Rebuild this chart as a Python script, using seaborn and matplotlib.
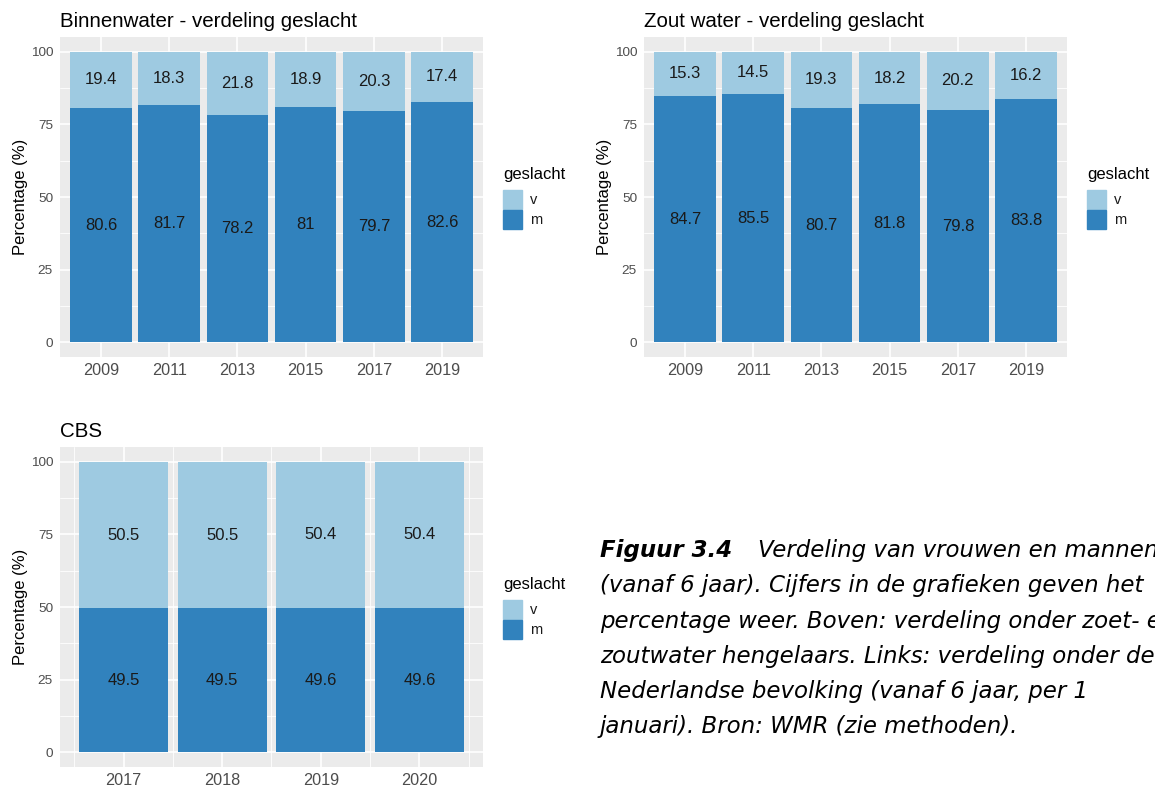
import numpy as np
import pandas as pd
import matplotlib
matplotlib.use("Agg")
import matplotlib.pyplot as plt
import matplotlib.patches as mpatches
import seaborn as sns

# --- data ---
jaren_hengel = ["2009", "2011", "2013", "2015", "2017", "2019"]
binnen_m = [80.6, 81.7, 78.2, 81.0, 79.7, 82.6]
binnen_v = [19.4, 18.3, 21.8, 18.9, 20.3, 17.4]
zout_m = [84.7, 85.5, 80.7, 81.8, 79.8, 83.8]
zout_v = [15.3, 14.5, 19.3, 18.2, 20.2, 16.2]
jaren_cbs = [2017, 2018, 2019, 2020]
cbs_m = [49.5, 49.5, 49.6, 49.6]
cbs_v = [50.5, 50.5, 50.4, 50.4]
geslacht = ["v", "m"]

LICHT = "#9ECAE1"   # v
DONKER = "#3182BD"  # m
W, H = 1155, 791

sns.set_style("white")
plt.rcParams["font.family"] = ["Liberation Sans", "DejaVu Sans"]

fig = plt.figure(figsize=(W / 100, H / 100), dpi=100)


def px_axes(l, t, r, b):
    return fig.add_axes([l / W, 1 - b / H, (r - l) / W, (b - t) / H])


def panel(ax, x, m, v, title, native=False):
    df = pd.DataFrame({"jaar": x, "m": m, "v": v})
    df["totaal"] = df["m"] + df["v"]
    # stacked: full bar in light colour, m drawn over it in dark
    sns.barplot(data=df, x="jaar", y="totaal", color=LICHT, width=0.9,
                saturation=1, linewidth=0, native_scale=native,
                errorbar=None, ax=ax)
    sns.barplot(data=df, x="jaar", y="m", color=DONKER, width=0.9,
                saturation=1, linewidth=0, native_scale=native,
                errorbar=None, ax=ax)
    pos = df["jaar"].to_numpy() if native else np.arange(len(df))
    for p, mm, vv in zip(pos, df["m"], df["v"]):
        ax.text(p, mm / 2, f"{mm:g}", ha="center", va="center",
                fontsize=12, color="#1a1a1a")
        ax.text(p, mm + vv / 2, f"{vv:g}", ha="center", va="center",
                fontsize=12, color="#1a1a1a")

    ax.set_facecolor("#EBEBEB")
    for s in ax.spines.values():
        s.set_visible(False)
    ax.set_ylim(-5, 105)
    ax.set_yticks([0, 25, 50, 75, 100])
    ax.set_yticks([12.5, 37.5, 62.5, 87.5], minor=True)
    if native:
        span = (pos.max() + 0.45) - (pos.min() - 0.45)
        ax.set_xlim(pos.min() - 0.45 - 0.05 * span, pos.max() + 0.45 + 0.05 * span)
        ax.set_xticks(pos)
        ax.set_xticklabels([str(p) for p in pos])
        ax.set_xticks(np.arange(pos.min() - 0.5, pos.max() + 1, 1.0), minor=True)
        ax.xaxis.grid(True, which="minor", color="white", lw=0.6)
    else:
        ax.set_xlim(-0.6, len(df) - 0.4)
    ax.set_axisbelow(True)
    ax.grid(True, which="major", color="white", lw=1.2)
    ax.yaxis.grid(True, which="minor", color="white", lw=0.6)
    ax.tick_params(which="major", length=3, width=0.8, color="#333333")
    ax.tick_params(which="minor", length=0)
    ax.tick_params(axis="x", labelsize=11.7, labelcolor="#4D4D4D", pad=1.5)
    ax.tick_params(axis="y", labelsize=9.7, labelcolor="#4D4D4D", pad=2)
    ax.set_xlabel("")
    ax.set_ylabel("Percentage (%)", fontsize=12, color="black")
    ax.yaxis.set_label_coords(-32 / 423, 0.5)
    ax.set_title(title, loc="left", fontsize=14.8, pad=7, color="black")


def legende(x, ytitel):
    # ggplot-like legend: title, then square keys stacked without gap
    fig.text(x / W, 1 - ytitel / H, "geslacht", fontsize=12,
             ha="left", va="center", color="black")
    kleuren = {"v": LICHT, "m": DONKER}
    for i, g in enumerate(geslacht):
        top = ytitel + 15 + 20 * i
        fig.add_artist(mpatches.Rectangle((x / W, 1 - (top + 19) / H),
                                          19 / W, 19 / H, color=kleuren[g],
                                          transform=fig.transFigure))
        fig.text((x + 27) / W, 1 - (top + 10.5) / H, g, fontsize=10.5,
                 ha="left", va="center", color="#1a1a1a")


ax1 = px_axes(60, 37, 483, 357)
panel(ax1, jaren_hengel, binnen_m, binnen_v, "Binnenwater - verdeling geslacht")
legende(503, 175)

ax2 = px_axes(644, 37, 1067, 357)
panel(ax2, jaren_hengel, zout_m, zout_v, "Zout water - verdeling geslacht")
legende(1087, 175)

ax3 = px_axes(60, 447, 483, 767)
panel(ax3, jaren_cbs, cbs_m, cbs_v, "CBS", native=True)
legende(503, 585)

# caption
cap_font = ["DejaVu Sans"]
regels = [
    "(vanaf 6 jaar). Cijfers in de grafieken geven het",
    "percentage weer. Boven: verdeling onder zoet- en",
    "zoutwater hengelaars. Links: verdeling onder de",
    "Nederlandse bevolking (vanaf 6 jaar, per 1",
    "januari). Bron: WMR (zie methoden).",
]
fig.text(600 / W, 1 - 557 / H, "Figuur 3.4", fontsize=16.5, fontweight="bold",
         style="italic", family=cap_font, va="baseline", color="black")
fig.text(758 / W, 1 - 557 / H, "Verdeling van vrouwen en mannen", fontsize=16.5,
         style="italic", family=cap_font, va="baseline", color="black")
for i, r in enumerate(regels):
    fig.text(600 / W, 1 - (557 + 35.3 * (i + 1)) / H, r, fontsize=16.5,
             style="italic", family=cap_font, va="baseline", color="black")

fig.savefig("out.png", dpi=100)
